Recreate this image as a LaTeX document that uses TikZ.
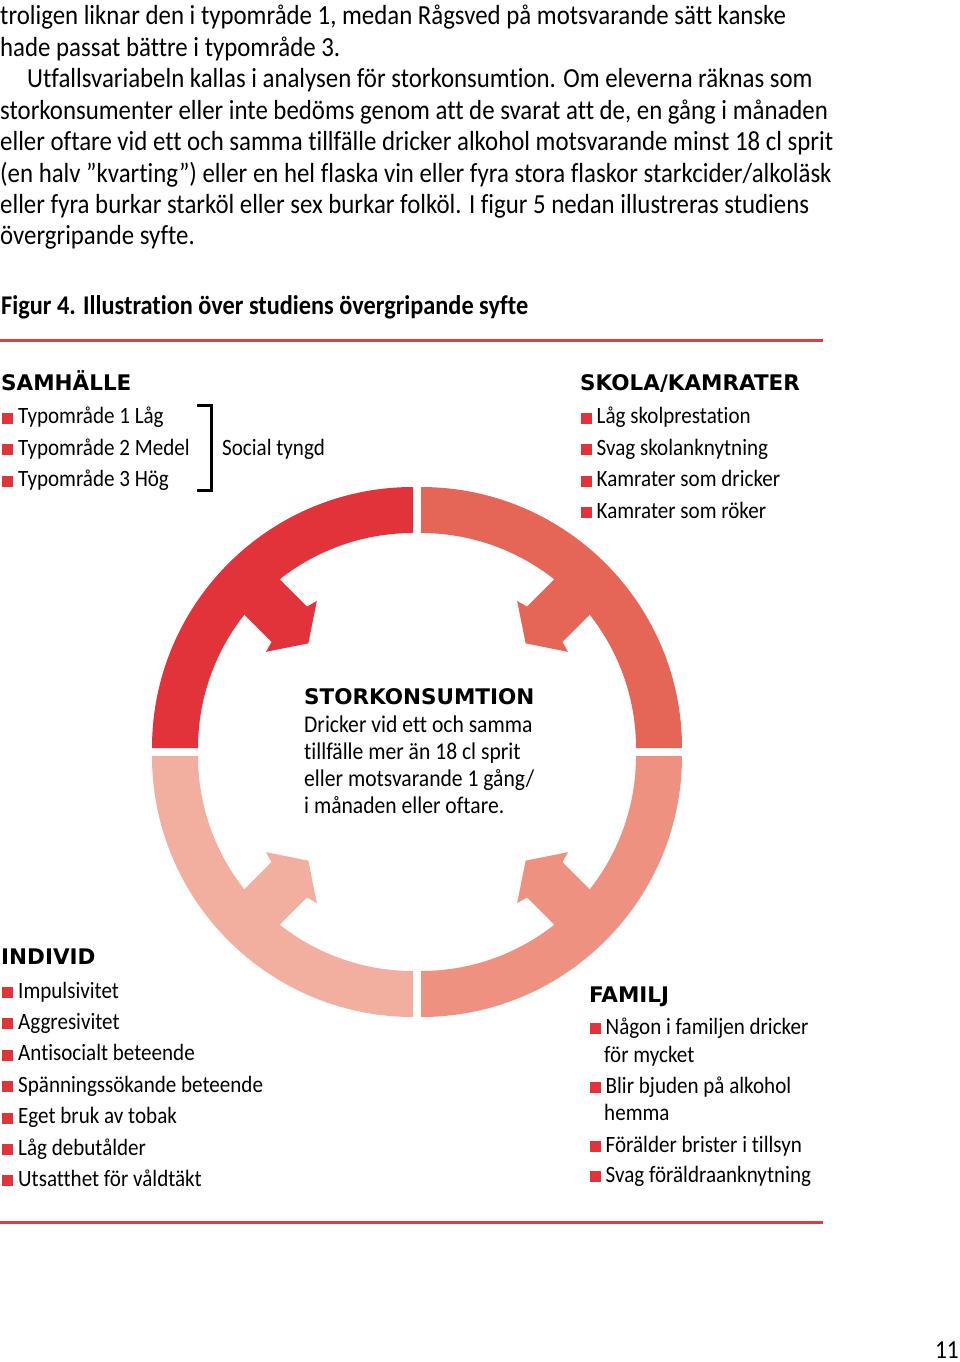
\documentclass[tikz,border=0pt]{standalone}
\usepackage{xcolor}
\usepackage{fontspec}
\setmainfont{Carlito}[FakeStretch=0.9, Ligatures=NoCommon]
\newfontfamily\rubrikfont{DejaVu Sans}
\usepackage{tikz}

\definecolor{rod}{HTML}{E2323A}
\definecolor{rod2}{HTML}{E56557}
\definecolor{rod3}{HTML}{EE9180}
\definecolor{rod4}{HTML}{F2AE9E}
\definecolor{linje}{HTML}{DB3F46}

\tikzstyle{brodtext}=[anchor=base west, inner sep=0pt, align=left, font=\fontsize{27.6}{31.4}\selectfont]
\tikzstyle{figtext}=[anchor=base west, inner sep=0pt, font=\bfseries\fontsize{27}{30}\selectfont]
\tikzstyle{rubrik}=[anchor=base west, inner sep=0pt, font=\rubrikfont\bfseries\fontsize{21.5}{24}\selectfont]
\tikzstyle{punkt}=[anchor=base west, inner sep=0pt, font=\fontsize{23.4}{31.4}\selectfont]
\tikzstyle{mitt}=[anchor=base west, inner sep=0pt, align=left, font=\fontsize{24}{26.8}\selectfont]
\tikzstyle{regel}=[draw=linje, line width=3pt]

\newcommand{\ruta}{\textcolor{rod}{\rule{11pt}{11pt}}\kern5pt}
\newcommand{\punkt}[2]{node (#1)[punkt]{\ruta #2}}
\newcommand{\bit}[2]{% a quarter of the ring with its arrow
  \begin{scope}[y=1pt, shift={(417,-752)}, rotate=#1, xshift=5.66pt]
    \fill[#2] (-45:261) arc[start angle=-45, end angle=45, radius=261]
      -- (45:215) arc[start angle=45, end angle=6.68, radius=215]
      -- (175,25) -- (172,36) -- (148,0) -- (172,-36) -- (175,-25)
      -- (-6.68:215) arc[start angle=-6.68, end angle=-45, radius=215] -- cycle;
  \end{scope}}

\begin{document}
\begin{tikzpicture}[x=1pt, y=-1pt]
	\useasboundingbox (0,0) rectangle (960,1362);
	
	% Text above the figure (base = last line)
	\node[brodtext] (p1) at (0,56.4) {troligen liknar den i typområde 1, medan Rågsved på motsvarande sätt kanske\\hade passat bättre i typområde 3.};
	\path (p1.base west)+(0,188.4) node[brodtext] (p2) {\hspace*{27pt}Utfallsvariabeln kallas i analysen för storkonsumtion. Om eleverna räknas som\\storkonsumenter eller inte bedöms genom att de svarat att de, en gång i månaden\\eller oftare vid ett och samma tillfälle dricker alkohol motsvarande minst 18 cl sprit\\(en halv ”kvarting”) eller en hel flaska vin eller fyra stora flaskor starkcider/alkoläsk\\eller fyra burkar starköl eller sex burkar folköl. I figur 5 nedan illustreras studiens\\övergripande syfte.};
	\node[figtext] (fig) at (1,314) {Figur 4. Illustration över studiens övergripande syfte};
	\draw[regel] (0,340) -- (823,340);
	
	% Ring with the four arrows
	\bit{135}{rod}
	\bit{45}{rod2}
	\bit{-45}{rod3}
	\bit{-135}{rod4}
	
	% Samhälle
	\node[rubrik] (samh) at (1,390) {SAMHÄLLE};
	\path (samh.base west)+(1,33.5) \punkt{s1}{Typområde 1 Låg};
	\path (s1.base west)+(0,31.5) \punkt{s2}{Typområde 2 Medel};
	\path (s2.base west)+(0,31.5) \punkt{s3}{Typområde 3 Hög};
	\draw[line width=3pt] (197,405) -- (211,405) -- (211,490) -- (197,490);
	\node[punkt] (social) at (222,455.5) {Social tyngd};
	
	% Skola/kamrater
	\node[rubrik] (skola) at (580,390) {SKOLA/KAMRATER};
	\path (skola.base west)+(0.5,33.5) \punkt{k1}{Låg skolprestation};
	\path (k1.base west)+(0,31.5) \punkt{k2}{Svag skolanknytning};
	\path (k2.base west)+(0,31.5) \punkt{k3}{Kamrater som dricker};
	\path (k3.base west)+(0,31.5) \punkt{k4}{Kamrater som röker};
	
	% Centre (base = last line)
	\node[rubrik] (stor) at (304,704) {STORKONSUMTION};
	\path (stor.base west)+(0,109) node[mitt] (stortext) {Dricker vid ett och samma\\tillfälle mer än 18 cl sprit\\eller motsvarande 1 gång/\\i månaden eller oftare.};
	
	% Individ
	\node[rubrik] (indiv) at (1,964) {INDIVID};
	\path (indiv.base west)+(1,34) \punkt{i1}{Impulsivitet};
	\path (i1.base west)+(0,31.4) \punkt{i2}{Aggresivitet};
	\path (i2.base west)+(0,31.4) \punkt{i3}{Antisocialt beteende};
	\path (i3.base west)+(0,31.4) \punkt{i4}{Spänningssökande beteende};
	\path (i4.base west)+(0,31.4) \punkt{i5}{Eget bruk av tobak};
	\path (i5.base west)+(0,31.4) \punkt{i6}{Låg debutålder};
	\path (i6.base west)+(0,31.4) \punkt{i7}{Utsatthet för våldtäkt};
	
	% Familj
	\node[rubrik] (fam) at (589,1002) {FAMILJ};
	\path (fam.base west)+(0.5,32) \punkt{f1}{Någon i familjen dricker};
	\path (f1.base west)+(14.5,28) node[punkt] (f1b) {för mycket};
	\path (f1.base west)+(0,59) \punkt{f2}{Blir bjuden på alkohol};
	\path (f2.base west)+(14.5,27) node[punkt] (f2b) {hemma};
	\path (f2.base west)+(0,59) \punkt{f3}{Förälder brister i tillsyn};
	\path (f3.base west)+(0,30) \punkt{f4}{Svag föräldraanknytning};
	
	\draw[regel] (0,1222) -- (823,1222);
	\node[anchor=base east, inner sep=0pt, font=\fontsize{26}{30}\selectfont] (sida) at (959,1358) {11};
	
\end{tikzpicture}
\end{document}
